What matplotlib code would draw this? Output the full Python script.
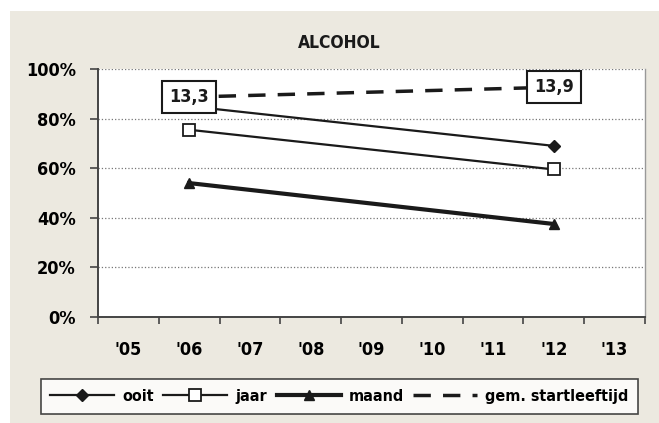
import matplotlib
matplotlib.use('Agg')
from matplotlib import pyplot as plt
from matplotlib.patches import Rectangle

plt.rcParams['font.family'] = ['DejaVu Sans']
plt.rcParams['font.stretch'] = 'condensed'
plt.rcParams['font.weight'] = 'bold'

# data
years = ["'05", "'06", "'07", "'08", "'09", "'10", "'11", "'12", "'13"]
survey_years = ["'06", "'12"]
ooit = [85, 69]
jaar = [75.5, 59.5]
maand = [54, 37.5]
startleeftijd = [13.3, 13.9]
y_ticks = [0, 20, 40, 60, 80, 100]

ink = '#1a1a1a'
beige = '#ece9e0'

fig = plt.figure(figsize=(6.59, 4.23), dpi=100, facecolor='white')
fig.patches.append(Rectangle((10 / 659, 0), 1, 1 - 11 / 423, transform=fig.transFigure,
                             facecolor=beige, edgecolor='none', zorder=-10))

ax = fig.add_axes([98 / 659, 1 - 317 / 423, 547 / 659, 248 / 423])
ax.set_facecolor('white')

xs = [years.index(y) for y in survey_years]

ax.plot(xs, ooit, color=ink, lw=1.6, marker='D', ms=6.5, mfc=ink, mec=ink, label='ooit', zorder=4)
ax.plot(xs, jaar, color=ink, lw=1.6, marker='s', ms=8, mfc='white', mec=ink, mew=1.3, label='jaar', zorder=4)
ax.plot(xs, maand, color=ink, lw=3, marker='^', ms=7, mfc=ink, mec=ink, label='maand', zorder=4)

# startleeftijd on hidden secondary axis (0-15)
ax2 = ax.twinx()
ax2.set_ylim(0, 15)
ax2.set_axis_off()
ln, = ax2.plot(xs, startleeftijd, color=ink, lw=2.5, ls=(0, (5, 3.5)), label='gem. startleeftijd')
for x, v in zip(xs, startleeftijd):
    ax2.text(x, v, f'{v:.1f}'.replace('.', ','), ha='center', va='center', fontsize=13,
             fontweight='bold', color=ink,
             bbox=dict(boxstyle='square,pad=0.38', facecolor='white', edgecolor=ink, lw=1.5))

ax.set_xlim(-0.5, len(years) - 0.5)
ax.set_ylim(0, 100)
ax.set_yticks(y_ticks)
ax.set_yticklabels([f'{t}%' for t in y_ticks], fontsize=13, fontweight='bold')
ax.set_xticks([i - 0.5 for i in range(len(years) + 1)])
ax.set_xticklabels([])
ax.set_xticks(range(len(years)), minor=True)
ax.set_xticklabels(years, minor=True, fontsize=13, fontweight='bold')
ax.tick_params(axis='x', which='minor', length=0, pad=17)
ax.tick_params(axis='x', which='major', length=5, width=1.2, color='#444444', direction='out')
ax.tick_params(axis='y', length=6, width=1.2, color='#444444', pad=10)
ax.grid(axis='y', color='#777777', ls=':', lw=0.9)
ax.set_axisbelow(True)

for side in ['left', 'bottom']:
    ax.spines[side].set_color('#444444')
    ax.spines[side].set_linewidth(1.4)
ax.spines['top'].set_visible(False)
ax.spines['right'].set_color('#999999')
ax.spines['right'].set_linewidth(1)

fig.text(339 / 659, 1 - 43 / 423, 'ALCOHOL', ha='center', va='center', fontsize=12.5, fontweight='bold', color=ink)

handles = ax.get_legend_handles_labels()[0] + [ln]
leg = fig.legend(handles, ['ooit', 'jaar', 'maand', 'gem. startleeftijd'], loc='center',
                 bbox_to_anchor=(339.5 / 659, 1 - 396.5 / 423), ncol=4, fontsize=11.5,
                 handlelength=4, handletextpad=0.5, columnspacing=0.6, frameon=True,
                 fancybox=False, edgecolor=ink, borderpad=0.6)
leg.get_frame().set_linewidth(1.2)

fig.savefig('out.png', dpi=100, facecolor='white')
